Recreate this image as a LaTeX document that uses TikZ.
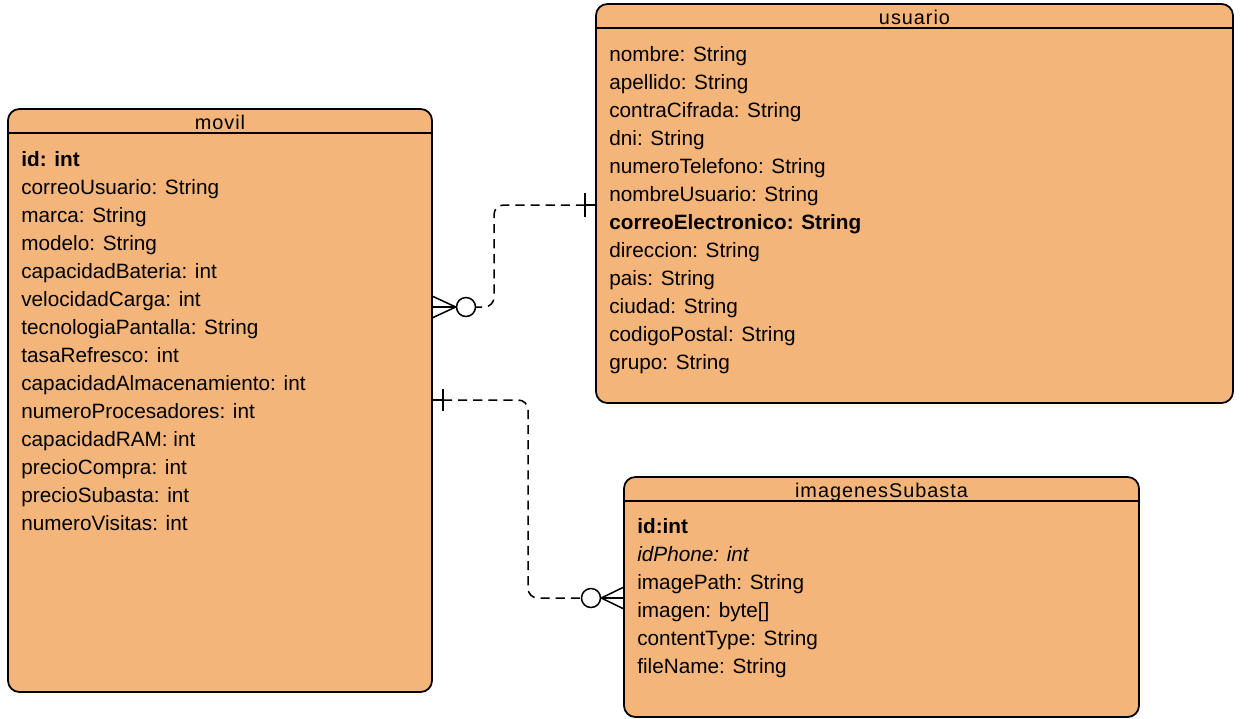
\documentclass[tikz,border=0pt]{standalone}
\usepackage{fontspec}
\setmainfont{Liberation Sans}
\newfontfamily\hdrfont[LetterSpace=5]{Liberation Sans}
\usetikzlibrary{fit,calc}
\definecolor{entfill}{RGB}{244,181,122}
\begin{document}
\begin{tikzpicture}[x=0.02cm,y=-0.02cm,
  entity/.style={draw, line width=1pt, fill=entfill, rounded corners=6.5pt, inner sep=0pt},
  hline/.style={line width=0.9pt},
  hdr/.style={font=\hdrfont\fontsize{11.3}{13}\selectfont, inner sep=0pt, anchor=base},
  attr/.style={font=\fontsize{11.8}{14}\selectfont, inner sep=0pt, anchor=base west},
  conn/.style={line width=0.85pt, dash pattern=on 5.2pt off 3.4pt, rounded corners=5.5pt},
  solidl/.style={line width=0.85pt},
  ring/.style={circle, draw, line width=0.85pt, fill=white, minimum size=0.38cm, inner sep=0pt}]

\fill[white] (0,0) rectangle (1252,718);
\useasboundingbox (0,0) rectangle (1252,718);

% entities
\node[entity, fit={(8,109)(432,692)}] (movil) {};
\node[entity, fit={(596,4)(1233,403)}] (usuario) {};
\node[entity, fit={(624,477)(1139,717)}] (imagenes) {};

\draw[hline] ($(movil.north west)+(0,25)$) -- ($(movil.north east)+(0,25)$);
\draw[hline] ($(usuario.north west)+(0,25)$) -- ($(usuario.north east)+(0,25)$);
\draw[hline] ($(imagenes.north west)+(0,25)$) -- ($(imagenes.north east)+(0,25)$);

\node[hdr] (movilT) at (220,129) {movil};
\node[hdr] (usuarioT) at (914.5,24) {usuario};
\node[hdr] (imagenesT) at (881.5,497) {imagenesSubasta};

\foreach \t [count=\i from 0] in {{\textbf{id: int}},{correoUsuario: String},{marca: String},{modelo: String},{capacidadBateria: int},{velocidadCarga: int},{tecnologiaPantalla: String},{tasaRefresco: int},{capacidadAlmacenamiento: int},{numeroProcesadores: int},{capacidadRAM: int},{precioCompra: int},{precioSubasta: int},{numeroVisitas: int}}
  \node[attr] (m\i) at (21,{166+28*\i}) {\t};

\foreach \t [count=\i from 0] in {{nombre: String},{apellido: String},{contraCifrada: String},{dni: String},{numeroTelefono: String},{nombreUsuario: String},{\textbf{correoElectronico: String}},{direccion: String},{pais: String},{ciudad: String},{codigoPostal: String},{grupo: String}}
  \node[attr] (u\i) at (609,{61+28*\i}) {\t};

\foreach \t [count=\i from 0] in {{\textbf{id:int}},{\textit{idPhone: int}},{imagePath: String},{imagen: byte[]},{contentType: String},{fileName: String}}
  \node[attr] (g\i) at (637,{533+28*\i}) {\t};

% connector movil -- usuario
\coordinate (ua) at (596,205);
\coordinate (ma) at (432,307);
\node[ring] (c1) at (466,307) {};
\draw[solidl] ($(ua)+(-11,-12)$) -- ($(ua)+(-11,12)$);
\draw[solidl] ($(ua)+(-11,0)$) -- (ua);
\draw[conn] ($(ua)+(-11,0)$) -| (494,260) |- (c1.east);
\draw[solidl] ($(ma)+(0,-11)$) -- (c1.west) -- ($(ma)+(0,11)$);
\draw[solidl] (ma) -- (c1.west);

% connector movil -- imagenesSubasta
\coordinate (mb) at (432,400);
\coordinate (ia) at (624,598);
\node[ring] (c2) at (591,598) {};
\draw[solidl] ($(mb)+(11,-11)$) -- ($(mb)+(11,11)$);
\draw[solidl] (mb) -- ($(mb)+(11,0)$);
\draw[conn] ($(mb)+(11,0)$) -| (528,500) |- (c2.west);
\draw[solidl] ($(ia)+(0,-11)$) -- (c2.east) -- ($(ia)+(0,11)$);
\draw[solidl] (c2.east) -- (ia);
\end{tikzpicture}
\end{document}
